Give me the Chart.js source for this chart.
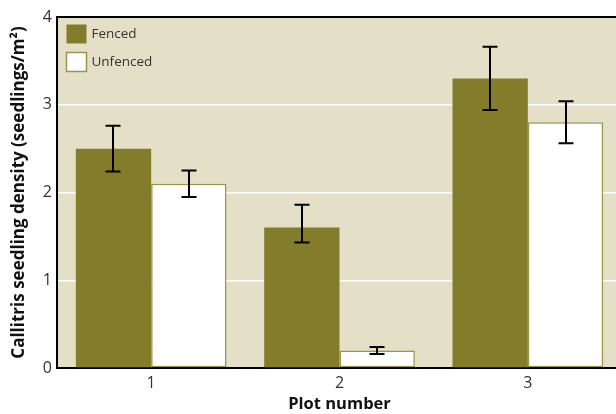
<!DOCTYPE html>
<html>
<head>
<meta charset="utf-8">
<script src="https://cdn.jsdelivr.net/npm/chart.js@4/dist/chart.umd.min.js"></script>
<style>
  html, body { margin: 0; padding: 0; background: #ffffff; overflow: hidden; }
  #wrap { width: 616px; height: 414px; overflow: hidden; }
  canvas { display: block; }
</style>
</head>
<body>
<div id="wrap"><canvas id="chart" width="622" height="414"></canvas></div>
<script>
// Plot categories and seedling densities (seedlings per m²)
const plots = ['1', '2', '3'];
const fenced = [2.5, 1.6, 3.3];
const unfenced = [2.1, 0.2, 2.8];

// Error bar extents (upper and lower ends)
const fencedHi = [2.76, 1.86, 3.66];
const fencedLo = [2.24, 1.43, 2.94];
const unfencedHi = [2.25, 0.24, 3.04];
const unfencedLo = [1.95, 0.16, 2.56];

const yTicks = [0, 1, 2, 3, 4];

const OLIVE = '#837c2b';
const OLIVE_EDGE = '#9a944c';
const PANEL = '#e4e0c8';
const TEXT = '#333333';
const FONT = "'Open Sans', 'Noto Sans', sans-serif";

const errors = [
  { hi: fencedHi, lo: fencedLo },
  { hi: unfencedHi, lo: unfencedLo }
];

// Panel background and the black frame line along the top
const panelPlugin = {
  id: 'panel',
  beforeDraw(chart) {
    const { ctx, chartArea: a } = chart;
    ctx.save();
    ctx.fillStyle = PANEL;
    ctx.fillRect(a.left, a.top, a.right - a.left, a.bottom - a.top);
    ctx.restore();
  },
  afterDraw(chart) {
    const { ctx, chartArea: a } = chart;
    ctx.save();
    ctx.strokeStyle = '#000';
    ctx.lineWidth = 2;
    ctx.beginPath();
    ctx.moveTo(a.left - 1, a.top);
    ctx.lineTo(a.right, a.top);
    ctx.stroke();
    ctx.restore();
  }
};

// Capped error bars drawn over each bar
const errorBarPlugin = {
  id: 'errorBars',
  afterDatasetsDraw(chart) {
    const { ctx } = chart;
    const y = chart.scales.y;
    ctx.save();
    ctx.strokeStyle = '#000';
    ctx.lineWidth = 2;
    chart.data.datasets.forEach((ds, di) => {
      const meta = chart.getDatasetMeta(di);
      meta.data.forEach((bar, i) => {
        const x = Math.round(bar.x);
        const yHi = y.getPixelForValue(errors[di].hi[i]);
        const yLo = y.getPixelForValue(errors[di].lo[i]);
        ctx.beginPath();
        ctx.moveTo(x, yHi); ctx.lineTo(x, yLo);
        ctx.moveTo(x - 7.5, yHi); ctx.lineTo(x + 7.5, yHi);
        ctx.moveTo(x - 7.5, yLo); ctx.lineTo(x + 7.5, yLo);
        ctx.stroke();
      });
    });
    ctx.restore();
  }
};

// Legend boxes in the upper left of the panel
const legendPlugin = {
  id: 'insetLegend',
  afterDraw(chart) {
    const { ctx, chartArea: a } = chart;
    ctx.save();
    ctx.font = '13.5px ' + FONT;
    ctx.textBaseline = 'middle';
    chart.data.datasets.forEach((ds, i) => {
      const bx = a.left + 9.5;
      const by = a.top + 7.5 + i * 28;
      ctx.fillStyle = ds.backgroundColor;
      ctx.fillRect(bx, by, 20, 19);
      if (ds.borderWidth) {
        ctx.strokeStyle = ds.borderColor;
        ctx.lineWidth = 1.5;
        ctx.strokeRect(bx, by, 20, 19);
      }
      ctx.fillStyle = TEXT;
      ctx.fillText(ds.label, bx + 25, by + 10);
    });
    ctx.restore();
  }
};

new Chart(document.getElementById('chart'), {
  type: 'bar',
  data: {
    labels: plots,
    datasets: [
      {
        label: 'Fenced',
        data: fenced,
        backgroundColor: OLIVE,
        borderWidth: 0,
        categoryPercentage: 0.8,
        barPercentage: 1.0
      },
      {
        label: 'Unfenced',
        data: unfenced,
        backgroundColor: '#ffffff',
        borderColor: OLIVE_EDGE,
        borderWidth: 1.5,
        borderSkipped: false,
        categoryPercentage: 0.8,
        barPercentage: 1.0
      }
    ]
  },
  options: {
    responsive: false,
    animation: false,
    layout: { padding: { top: 17, left: 0, right: 0, bottom: 0 } },
    plugins: {
      legend: { display: false },
      tooltip: { enabled: false }
    },
    scales: {
      x: {
        grid: { display: false, drawTicks: false },
        border: { display: true, color: '#000', width: 2 },
        ticks: { color: TEXT, font: { family: FONT, size: 16 }, padding: 6 },
        title: {
          display: true,
          text: 'Plot number',
          color: '#111',
          font: { family: FONT, size: 16.5, weight: 'bold' },
          padding: { top: 0, bottom: 0 }
        },
        afterFit(scale) { scale.height = 46; }
      },
      y: {
        min: 0,
        max: 4,
        afterBuildTicks(scale) { scale.ticks = yTicks.map(v => ({ value: v })); },
        grid: {
          drawTicks: false,
          lineWidth: 1.5,
          color: ctx => (ctx.tick && ctx.tick.value > 0 && ctx.tick.value < 4) ? '#ffffff' : 'rgba(0,0,0,0)'
        },
        border: { display: true, color: '#000', width: 2 },
        ticks: { color: TEXT, font: { family: FONT, size: 16 }, padding: 5 },
        title: {
          display: true,
          text: 'Callitris seedling density (seedlings/m²)',
          color: '#111',
          font: { family: FONT, size: 17, weight: 'bold' },
          padding: { top: 9, bottom: 0 }
        },
        afterFit(scale) { scale.width = 57; }
      }
    }
  },
  plugins: [panelPlugin, errorBarPlugin, legendPlugin]
});
</script>
</body>
</html>
